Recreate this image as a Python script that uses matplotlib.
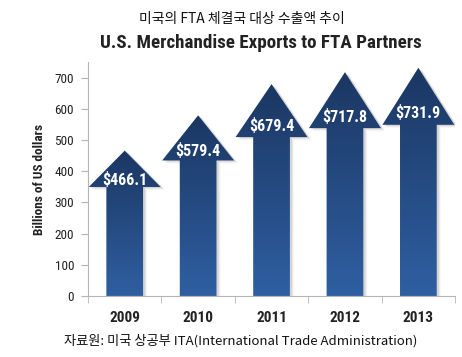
import numpy as np
import matplotlib.pyplot as plt
from matplotlib.patches import Polygon
from matplotlib.colors import LinearSegmentedColormap
import matplotlib.transforms as mtransforms

years = ['2009', '2010', '2011', '2012', '2013']
exports = [466.1, 579.4, 679.4, 717.8, 731.9]
yticks = [0, 100, 200, 300, 400, 500, 600, 700]

narrow = ['Roboto Condensed', 'Roboto', 'DejaVu Sans']
korean = ['Noto Sans CJK KR', 'DejaVu Sans']

fig = plt.figure(figsize=(4.62, 3.57), dpi=100)
ax = fig.add_axes([0.1905, 0.171, 0.7945, 0.655])

# arrow colours: lighter blue at the bottom, navy at the tip
cmap = LinearSegmentedColormap.from_list('arrow', ['#2f5fa2', '#1b3762'])
grad = np.linspace(0, 1, 256).reshape(-1, 1)

for i, v in enumerate(exports):
    head = 0.25 * v
    base = v - head
    pts = [(i - 0.25, 0), (i + 0.25, 0), (i + 0.25, base), (i + 0.49, base),
           (i, v), (i - 0.49, base), (i - 0.25, base)]
    # soft shadow
    for k, a in [(1, 0.15), (2, 0.10), (3, 0.06)]:
        tr = mtransforms.offset_copy(ax.transData, fig=fig, x=k + 1, y=-k, units='dots')
        ax.add_patch(Polygon(pts, closed=True, facecolor='#666666', edgecolor='none',
                             alpha=a, transform=tr, zorder=1))
    poly = Polygon(pts, closed=True, facecolor='none', edgecolor='none', zorder=2)
    ax.add_patch(poly)
    im = ax.imshow(grad, cmap=cmap, extent=(i - 0.5, i + 0.5, 0, v), origin='lower',
                   aspect='auto', zorder=2)
    im.set_clip_path(poly)
    ax.text(i, base + 0.2 * head, f'\\${v:.1f}', color='white', ha='center', va='center',
            fontsize=11.5, fontweight='bold', family=narrow, zorder=3)

ax.set_xlim(-0.5, 4.5)
ax.set_ylim(0, 750)

for s in ['top', 'right']:
    ax.spines[s].set_visible(False)
for s in ['left', 'bottom']:
    ax.spines[s].set_color('#b5b5b5')
    ax.spines[s].set_linewidth(0.8)

ax.set_yticks(yticks)
ax.set_yticklabels([str(t) for t in yticks], family=narrow, fontsize=9.5, color='#222222')
ax.tick_params(axis='y', length=5, color='#b5b5b5', pad=5)

ax.set_xticks(range(len(years)))
ax.set_xticklabels(years, family=narrow, fontsize=11, fontweight='bold', color='#222222')
ax.set_xticks(np.arange(-0.5, 5, 1), minor=True)
ax.tick_params(axis='x', which='major', length=0, pad=11)
ax.tick_params(axis='x', which='minor', length=5, color='#b5b5b5')

ax.set_ylabel('Billions of US dollars', family=narrow, fontsize=9.5, fontweight='bold',
              labelpad=6, color='#222222')

fig.text(0.524, 0.948, '미국의 FTA 체결국 대상 수출액 추이', family=korean, fontsize=10,
         ha='center', va='center', color='#111111')
fig.text(0.565, 0.88, 'U.S. Merchandise Exports to FTA Partners', family=narrow,
         fontsize=13.7, fontweight='bold', ha='center', va='center', color='#222222')
fig.text(0.522, 0.045, '자료원: 미국 상공부 ITA(International Trade Administration)',
         family=korean, fontsize=9.5, ha='center', va='center', color='#111111')

fig.savefig('out.png', dpi=100)
